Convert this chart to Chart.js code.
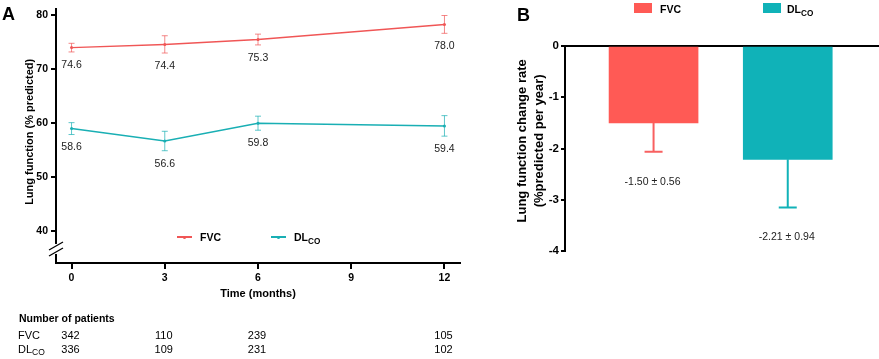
<!DOCTYPE html>
<html>
<head>
<meta charset="utf-8">
<script src="https://cdn.jsdelivr.net/npm/chart.js@4.4.1/dist/chart.umd.min.js"></script>
<style>
  html, body { margin:0; padding:0; background:#fff; }
  #wrap { position:relative; width:879px; height:359px; overflow:hidden; background:#fff;
          font-family:'Liberation Sans', Arial, sans-serif; color:#000; }
  canvas { position:absolute; top:0; }
  .t { position:absolute; white-space:nowrap; line-height:12px; }
  .b { font-weight:bold; }
  sub { font-size:0.78em; vertical-align:-0.35em; line-height:0; }
  .panel { position:absolute; font-weight:bold; font-size:18px; line-height:18px; }
  .mk { position:absolute; height:2px; }
  .dot { position:absolute; width:3px; height:3px; border-radius:50%; }
  .sq { position:absolute; width:18px; height:10px; }
</style>
</head>
<body>
<div id="wrap">
  <canvas id="cA" width="470" height="359" style="left:0"></canvas>
  <canvas id="cB" width="399" height="260" style="left:480px"></canvas>

  <div class="panel" style="left:2px;top:5px">A</div>
  <div class="panel" style="left:517px;top:6px">B</div>

  <!-- legend A -->
  <div class="mk" style="left:177px;top:236px;width:15px;background:#F05656"></div>
  <div class="dot" style="left:183px;top:235.5px;background:#F05656"></div>
  <div class="t b" style="left:200px;top:231px;font-size:10.5px">FVC</div>
  <div class="mk" style="left:271px;top:236px;width:15px;background:#19AFB4"></div>
  <div class="dot" style="left:277px;top:235.5px;background:#19AFB4"></div>
  <div class="t b" style="left:294px;top:231px;font-size:10.5px">DL<sub>CO</sub></div>

  <!-- legend B -->
  <div class="sq" style="left:634px;top:3px;background:#FF5A55"></div>
  <div class="t b" style="left:660px;top:3px;font-size:10.5px">FVC</div>
  <div class="sq" style="left:763px;top:3px;background:#10B2B8"></div>
  <div class="t b" style="left:787px;top:3px;font-size:10.5px">DL<sub>CO</sub></div>
</div>

<script>
// ---------- Panel A data ----------
const months      = [0, 3, 6, 12];
const fvcMean     = [73.9, 74.5, 75.4, 78.2];
const fvcErr      = [0.8, 1.6, 1.0, 1.65];
const fvcLabels   = ['74.6', '74.4', '75.3', '78.0'];
const dlcoMean    = [58.9, 56.6, 59.9, 59.4];
const dlcoErr     = [1.1, 1.8, 1.3, 1.9];
const dlcoLabels  = ['58.6', '56.6', '59.8', '59.4'];
const xTicksA     = [0, 3, 6, 9, 12];
const yTicksA     = [40, 50, 60, 70, 80];
const patientsFVC  = ['342', '110', '239', '105'];
const patientsDLCO = ['336', '109', '231', '102'];
const yTitleA     = 'Lung function (% predicted)';

// ---------- Panel B data ----------
const rateCategories = ['FVC', 'DLCO'];
const rateValues     = [-1.50, -2.21];
const rateErrors     = [0.56, 0.94];
const rateLabels     = ['-1.50 ± 0.56', '-2.21 ± 0.94'];
const yTicksB        = [0, -1, -2, -3, -4];
const yTitleB        = ['Lung function change rate', '(%predicted per year)'];

const FONT = "'Liberation Sans', Arial, sans-serif";
const RED = '#F05656', TEAL = '#19AFB4';
const RED_EB = 'rgba(240,86,86,0.7)', TEAL_EB = 'rgba(25,175,180,0.7)';

function pts(ys) { return months.map((m, i) => ({ x: m, y: ys[i] })); }

function rotatedText(ctx, lines, cx, cy, font, lineGap) {
  ctx.save();
  ctx.translate(cx, cy);
  ctx.rotate(-Math.PI / 2);
  ctx.font = font;
  ctx.fillStyle = '#000';
  ctx.textAlign = 'center';
  ctx.textBaseline = 'middle';
  lines.forEach((l, i) => ctx.fillText(l, 0, i * lineGap));
  ctx.restore();
}

const pluginA = {
  id: 'pluginA',
  afterDatasetsDraw(chart) {
    const { ctx, scales: { x, y } } = chart;
    const sets = [
      { mean: fvcMean, err: fvcErr, lab: fvcLabels, col: RED_EB },
      { mean: dlcoMean, err: dlcoErr, lab: dlcoLabels, col: TEAL_EB }
    ];
    ctx.save();
    sets.forEach(s => {
      months.forEach((m, i) => {
        const px = x.getPixelForValue(m);
        const top = y.getPixelForValue(s.mean[i] + s.err[i]);
        const bot = y.getPixelForValue(s.mean[i] - s.err[i]);
        ctx.strokeStyle = s.col; ctx.lineWidth = 1;
        ctx.beginPath();
        ctx.moveTo(px, top); ctx.lineTo(px, bot);
        ctx.moveTo(px - 3, top); ctx.lineTo(px + 3, top);
        ctx.moveTo(px - 3, bot); ctx.lineTo(px + 3, bot);
        ctx.stroke();
        ctx.fillStyle = '#222';
        ctx.font = '10.5px ' + FONT;
        ctx.textAlign = 'center'; ctx.textBaseline = 'middle';
        ctx.fillText(s.lab[i], px, bot + 13);
      });
    });
    ctx.restore();
  },
  afterDraw(chart) {
    const { ctx, scales: { x, y }, chartArea } = chart;
    ctx.save();
    // axis break
    const yc = y.getPixelForValue(36.6);
    const ax = chartArea.left;
    ctx.fillStyle = '#fff';
    ctx.fillRect(ax - 3, yc - 5, 6, 10);
    ctx.strokeStyle = '#000'; ctx.lineWidth = 1.2;
    [-3, 3].forEach(d => {
      ctx.beginPath();
      ctx.moveTo(ax - 7, yc + d + 4);
      ctx.lineTo(ax + 7, yc + d - 4);
      ctx.stroke();
    });
    // y title
    rotatedText(ctx, [yTitleA], 30, y.getPixelForValue(58.3), 'bold 11px ' + FONT, 0);
    // patients table
    ctx.fillStyle = '#000';
    ctx.textBaseline = 'middle';
    ctx.textAlign = 'left';
    ctx.font = 'bold 10.5px ' + FONT;
    ctx.fillText('Number of patients', 19, 319);
    ctx.font = '11px ' + FONT;
    ctx.fillText('FVC', 18, 336);
    ctx.fillText('DL', 18, 350);
    const dlw = ctx.measureText('DL').width;
    ctx.font = '8.5px ' + FONT;
    ctx.fillText('CO', 18 + dlw, 353);
    ctx.font = '11px ' + FONT;
    ctx.textAlign = 'center';
    months.forEach((m, i) => {
      const px = x.getPixelForValue(m) - 1;
      ctx.fillText(patientsFVC[i], px, 336);
      ctx.fillText(patientsDLCO[i], px, 350);
    });
    ctx.restore();
  }
};

new Chart(document.getElementById('cA'), {
  type: 'line',
  data: {
    datasets: [
      { label: 'FVC', data: pts(fvcMean), borderColor: RED, backgroundColor: RED,
        borderWidth: 1.5, pointRadius: 1.5, pointBackgroundColor: RED, pointBorderWidth: 0, tension: 0 },
      { label: 'DLCO', data: pts(dlcoMean), borderColor: TEAL, backgroundColor: TEAL,
        borderWidth: 1.5, pointRadius: 1.5, pointBackgroundColor: TEAL, pointBorderWidth: 0, tension: 0 }
    ]
  },
  options: {
    responsive: false, animation: false,
    layout: { padding: { top: 4, right: 10, bottom: 58, left: 0 } },
    plugins: { legend: { display: false }, tooltip: { enabled: false } },
    scales: {
      x: {
        type: 'linear', min: -0.5, max: 12.5,
        afterBuildTicks: s => { s.ticks = xTicksA.map(v => ({ value: v })); },
        afterFit: s => { s.height = 38; },
        ticks: { color: '#000', font: { family: FONT, size: 10.5, weight: 'bold' }, padding: 3, maxRotation: 0, autoSkip: false },
        grid: { drawOnChartArea: false, color: '#000', tickLength: 6, lineWidth: 2 },
        border: { display: true, color: '#000', width: 2 },
        title: { display: true, text: 'Time (months)', color: '#000',
                 font: { family: FONT, size: 11, weight: 'bold' }, padding: { top: 0, bottom: 0 } }
      },
      y: {
        min: 34, max: 81,
        afterBuildTicks: s => { s.ticks = yTicksA.map(v => ({ value: v })); },
        afterFit: s => { s.width = 56; },
        ticks: { color: '#000', font: { family: FONT, size: 10.5, weight: 'bold' }, padding: 3 },
        grid: { drawOnChartArea: false, color: '#000', tickLength: 5, lineWidth: 2 },
        border: { display: true, color: '#000', width: 2 },
        title: { display: false }
      }
    }
  },
  plugins: [pluginA]
});

const pluginB = {
  id: 'pluginB',
  afterDatasetsDraw(chart) {
    const { ctx, scales: { x, y } } = chart;
    const cols = ['#F86060', '#11B2B8'];
    ctx.save();
    rateCategories.forEach((c, i) => {
      const px = x.getPixelForValue(i + 1);
      const top = y.getPixelForValue(rateValues[i]);
      const bot = y.getPixelForValue(rateValues[i] - rateErrors[i]);
      ctx.strokeStyle = cols[i]; ctx.lineWidth = 2;
      ctx.beginPath();
      ctx.moveTo(px, top); ctx.lineTo(px, bot);
      ctx.moveTo(px - 9, bot); ctx.lineTo(px + 9, bot);
      ctx.stroke();
      ctx.fillStyle = '#222';
      ctx.font = '10.5px ' + FONT;
      ctx.textAlign = 'center'; ctx.textBaseline = 'middle';
      ctx.fillText(rateLabels[i], px - 1, bot + 30);
    });
    ctx.restore();
  },
  afterDraw(chart) {
    const { ctx, scales: { y } } = chart;
    rotatedText(ctx, yTitleB, 42, y.getPixelForValue(-1.85), 'bold 13px ' + FONT, 17);
  }
};

new Chart(document.getElementById('cB'), {
  type: 'bar',
  data: {
    datasets: [{
      label: 'rate',
      data: rateCategories.map((c, i) => ({ x: i + 1, y: rateValues[i] })),
      backgroundColor: ['#FF5A55', '#10B2B8'],
      barThickness: 89
    }]
  },
  options: {
    responsive: false, animation: false,
    layout: { padding: { top: 46, right: 0, bottom: 8, left: 0 } },
    plugins: { legend: { display: false }, tooltip: { enabled: false } },
    scales: {
      x: {
        type: 'linear', position: 'top', min: 0.34, max: 2.68, offset: false,
        ticks: { display: false },
        grid: { drawOnChartArea: false, drawTicks: false, offset: false },
        border: { display: true, color: '#000', width: 2 },
        afterFit: s => { s.height = 0; }
      },
      y: {
        min: -4, max: 0,
        afterBuildTicks: s => { s.ticks = yTicksB.map(v => ({ value: v })); },
        afterFit: s => { s.width = 85; },
        ticks: { color: '#000', font: { family: FONT, size: 11.5, weight: 'bold' }, padding: 2 },
        grid: { drawOnChartArea: false, color: '#000', tickLength: 4, lineWidth: 2 },
        border: { display: true, color: '#000', width: 2 },
        title: { display: false }
      }
    }
  },
  plugins: [pluginB]
});
</script>
</body>
</html>
